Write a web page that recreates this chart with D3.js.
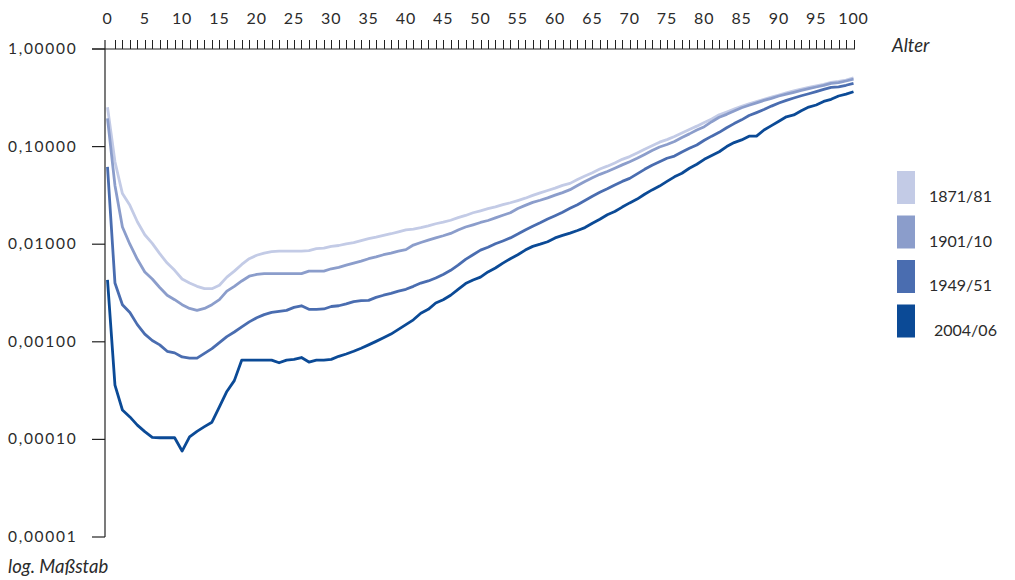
<!DOCTYPE html>
<html><head><meta charset="utf-8">
<script src="https://cdn.jsdelivr.net/npm/d3@7"></script>
<style>
body{margin:0;background:#fff;}
text{font-family:"Lato","Open Sans",sans-serif;fill:#2b2b2b;}
</style></head>
<body>
<svg id="chart" width="1015" height="580"></svg>
<script>
const ages = d3.range(0, 101);
const seriesNames = ["1871/81", "1901/10", "1949/51", "2004/06"];
const seriesColors = ["#c3cbe6", "#8b9dcb", "#4a6db0", "#0b4a96"];
const xTickLabels = [0,5,10,15,20,25,30,35,40,45,50,55,60,65,70,75,80,85,90,95,100];
const yTickValues = [1, 0.1, 0.01, 0.001, 0.0001, 0.00001];
const yTickLabels = ["1,00000","0,10000","0,01000","0,00100","0,00010","0,00001"];

const q1871 = [0.253,0.07,0.033,0.025,0.017,0.0125,0.0102,0.008,0.0064,0.0054,
0.0044,0.004,0.0037,0.0035,0.0035,0.0038,0.0046,0.0053,0.0062,0.0071,
0.0077,0.0081,0.0084,0.0085,0.0085,0.0085,0.0085,0.0086,0.009,0.0091,
0.0095,0.0097,0.0101,0.0104,0.0109,0.0114,0.0118,0.0123,0.0128,0.0134,
0.014,0.0143,0.0148,0.0154,0.0162,0.0168,0.0176,0.0187,0.0197,0.021,
0.022,0.0231,0.0241,0.0254,0.0266,0.028,0.0296,0.0316,0.0336,0.0355,
0.0375,0.04,0.042,0.046,0.05,0.054,0.059,0.063,0.068,0.074,
0.079,0.086,0.094,0.102,0.111,0.118,0.127,0.138,0.15,0.162,
0.177,0.192,0.212,0.226,0.242,0.258,0.274,0.289,0.305,0.321,
0.338,0.356,0.372,0.388,0.404,0.42,0.435,0.455,0.465,0.48,0.505];

const q1901 = [0.195,0.04,0.015,0.01,0.007,0.0052,0.0044,0.0036,0.003,0.0027,
0.0024,0.0022,0.0021,0.0022,0.0024,0.0027,0.0033,0.0037,0.0042,0.0047,
0.0049,0.005,0.005,0.005,0.005,0.005,0.005,0.0053,0.0053,0.0053,
0.0056,0.0058,0.0061,0.0064,0.0067,0.0071,0.0074,0.0078,0.0081,0.0085,
0.0088,0.0098,0.0104,0.011,0.0116,0.0122,0.0129,0.014,0.015,0.0158,
0.0167,0.0175,0.0186,0.0198,0.021,0.0232,0.025,0.0268,0.0282,0.0298,
0.0318,0.0338,0.0362,0.04,0.044,0.048,0.052,0.0556,0.06,0.065,
0.07,0.076,0.083,0.091,0.099,0.105,0.113,0.124,0.135,0.148,
0.16,0.18,0.2,0.214,0.232,0.25,0.265,0.281,0.297,0.312,
0.33,0.345,0.36,0.376,0.392,0.408,0.424,0.445,0.452,0.47,0.49];

const q1949 = [0.062,0.004,0.0024,0.002,0.0015,0.0012,0.00103,0.00093,0.0008,0.00077,
0.0007,0.00068,0.00068,0.00076,0.00085,0.00098,0.00113,0.00126,0.00142,0.0016,
0.00176,0.0019,0.002,0.00205,0.0021,0.00225,0.00234,0.00215,0.00215,0.00217,
0.0023,0.00234,0.00245,0.00258,0.00264,0.00266,0.00285,0.003,0.00313,0.0033,
0.00345,0.0037,0.004,0.0042,0.0045,0.0049,0.0054,0.0061,0.007,0.0078,
0.0087,0.0093,0.0101,0.0108,0.0116,0.0127,0.014,0.0153,0.0166,0.0181,
0.0196,0.0213,0.0233,0.0254,0.028,0.031,0.034,0.037,0.0405,0.044,
0.0472,0.0525,0.0585,0.0645,0.07,0.076,0.08,0.088,0.096,0.104,
0.116,0.128,0.14,0.156,0.172,0.188,0.208,0.223,0.24,0.26,
0.28,0.298,0.315,0.332,0.348,0.366,0.386,0.405,0.41,0.425,0.445];

const q2004 = [0.0043,0.00036,0.0002,0.00017,0.00014,0.00012,0.000105,0.000104,0.000104,0.000104,
0.000076,0.000106,0.000121,0.000135,0.00015,0.000215,0.00031,0.0004,0.00065,0.00065,
0.00065,0.00065,0.00065,0.00061,0.00065,0.00066,0.00069,0.00062,0.00065,0.00065,
0.00066,0.00071,0.00075,0.0008,0.00086,0.00093,0.00101,0.0011,0.0012,0.00134,
0.0015,0.00168,0.00196,0.00215,0.0025,0.0027,0.003,0.00345,0.00395,0.0043,
0.0046,0.0052,0.0057,0.0064,0.0071,0.0078,0.0087,0.0095,0.01,0.0106,
0.0116,0.0123,0.013,0.0138,0.0148,0.0164,0.018,0.02,0.0216,0.024,
0.0265,0.029,0.0325,0.036,0.0394,0.044,0.049,0.0533,0.06,0.066,
0.074,0.081,0.0886,0.1,0.11,0.117,0.128,0.128,0.148,0.164,
0.182,0.202,0.211,0.233,0.254,0.267,0.29,0.305,0.33,0.345,0.365];

const seriesValues = [q1871, q1901, q1949, q2004];

const svg = d3.select("#chart");
const x = d3.scaleLinear().domain([0, 100]).range([107.5, 853.5]);
const y = d3.scaleLog().domain([0.00001, 1]).range([537, 49]);
const axisX0 = 105;

const g = svg.append("g");
g.append("line").attr("x1", 92).attr("x2", x(100) + 1.5).attr("y1", y(1)).attr("y2", y(1))
  .attr("stroke", "#222").attr("stroke-width", 1.2);
g.selectAll(".tk").data(d3.range(1, 101)).enter().append("line")
  .attr("x1", d => Math.round(x(d)) + 0.5).attr("x2", d => Math.round(x(d)) + 0.5)
  .attr("y1", y(1)).attr("y2", y(1) - 9)
  .attr("stroke", "#222").attr("stroke-width", 1);
g.append("line").attr("x1", axisX0).attr("x2", axisX0).attr("y1", y(1) - 9).attr("y2", y(0.00001))
  .attr("stroke", "#222").attr("stroke-width", 1.2);
g.selectAll(".xl").data(xTickLabels).enter().append("text")
  .attr("x", d => x(d)).attr("y", 24).attr("text-anchor", "middle")
  .attr("font-size", 16).attr("letter-spacing", 0.9).text(d => d);

g.selectAll(".yt").data(yTickValues).enter().append("line")
  .attr("x1", 92).attr("x2", axisX0).attr("y1", d => y(d)).attr("y2", d => y(d))
  .attr("stroke", "#222").attr("stroke-width", 1.2);
g.selectAll(".yl").data(yTickValues).enter().append("text")
  .attr("x", 8).attr("y", d => y(d) + 5).attr("font-size", 15.5).attr("letter-spacing", 1.7)
  .text((d, i) => yTickLabels[i]);

g.append("text").attr("x", 892).attr("y", 52).attr("font-size", 18.5).attr("font-style", "italic").text("Alter");
g.append("text").attr("x", 8).attr("y", 573).attr("font-size", 18.5).attr("font-style", "italic").text("log. Maßstab");

const line = d3.line().x((d, i) => x(ages[i])).y(d => y(d));
seriesValues.forEach((vals, k) => {
  svg.append("path").datum(vals).attr("d", line)
    .attr("fill", "none").attr("stroke", seriesColors[k]).attr("stroke-width", 2.8)
    .attr("stroke-linejoin", "round");
});

const lg = svg.append("g");
seriesNames.forEach((n, k) => {
  const top = 171 + k * 44.5;
  lg.append("rect").attr("x", 897).attr("y", top).attr("width", 18).attr("height", 33)
    .attr("fill", seriesColors[k]);
  lg.append("text").attr("x", k === 3 ? 934 : 929).attr("y", top + 31)
    .attr("font-size", 16).attr("letter-spacing", 0).text(n);
});
</script>
</body></html>
